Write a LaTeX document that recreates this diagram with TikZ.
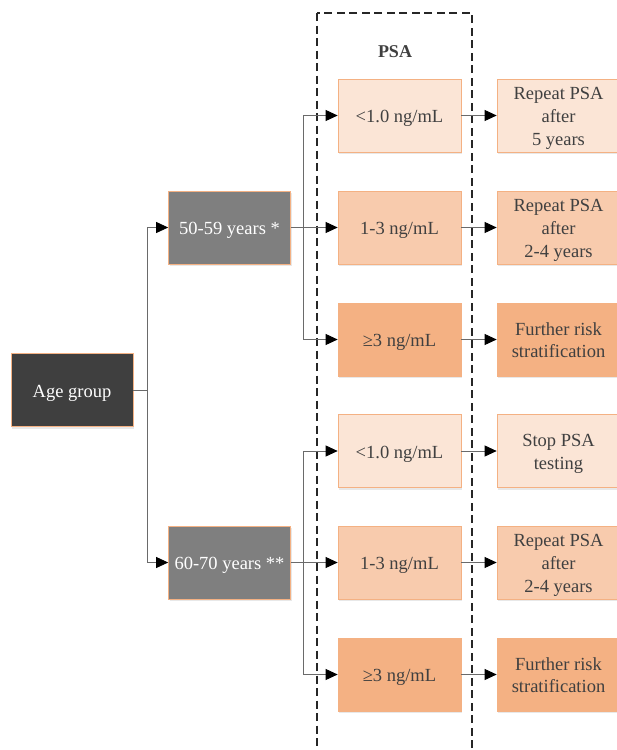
\documentclass[tikz,border=0pt]{standalone}
\usepackage{fontspec}
\setmainfont{Liberation Serif}
\usetikzlibrary{arrows.meta,shadows}
\definecolor{txt}{HTML}{404040}
\definecolor{bord}{HTML}{F4B183}
\definecolor{lowc}{HTML}{FBE5D6}
\definecolor{midc}{HTML}{F8CBAD}
\definecolor{highc}{HTML}{F4B183}
\definecolor{darkc}{HTML}{3F3F3F}
\definecolor{grayc}{HTML}{7F7F7F}
\definecolor{linec}{HTML}{6A6A6A}
\newcommand{\lowtxt}[1]{\raisebox{-2.5pt}[\height][\depth]{\begin{tabular}{@{}c@{}}#1\end{tabular}}}
\begin{document}
\begin{tikzpicture}[x=1pt,y=-1pt,
  box/.style={draw=bord, line width=0.7pt, minimum width=123pt, minimum height=73pt,
    inner sep=2pt, align=center, font=\fontsize{18.5}{22.8}\selectfont, text=txt,
    drop shadow={opacity=0.18, shadow xshift=1pt, shadow yshift=-2pt}},
  lowbox/.style={box, fill=lowc},
  midbox/.style={box, fill=midc},
  highbox/.style={box, fill=highc},
  agebox/.style={box, fill=darkc, text=white, minimum width=122pt},
  grpbox/.style={box, fill=grayc, text=white, minimum width=122pt},
  conn/.style={draw=linec, line width=0.8pt, -{Triangle[length=12pt,width=11pt,fill=black,color=black]}},
  frame/.style={draw=black!85, line width=1.8pt, dash pattern=on 8pt off 4.5pt},
  lbl/.style={font=\bfseries\fontsize{18}{21}\selectfont, text=txt}]
\useasboundingbox (0,0) rectangle (617,750);
\clip (0,0) rectangle (617,750);

\draw[frame] (317,13) rectangle (472,753);
\node[lbl] (psa) at (395,52) {PSA};

% left part
\node[agebox] (age) at (72,390) {\lowtxt{Age group}};
\node[grpbox] (g1) at (229.5,227.5) {\lowtxt{50-59 years *}};
\node[grpbox] (g2) at (229.5,562.5) {\lowtxt{60-70 years **}};

% PSA boxes
\node[lowbox]  (p1) at (399.5,115.5) {\lowtxt{<1.0 ng/mL}};
\node[midbox]  (p2) at (399.5,227.5) {\lowtxt{1-3 ng/mL}};
\node[highbox] (p3) at (399.5,339.5) {\lowtxt{≥3 ng/mL}};
\node[lowbox]  (p4) at (399.5,451) {\lowtxt{<1.0 ng/mL}};
\node[midbox]  (p5) at (399.5,562.5) {\lowtxt{1-3 ng/mL}};
\node[highbox] (p6) at (399.5,674.5) {\lowtxt{≥3 ng/mL}};

% result boxes
\node[lowbox]  (r1) at (558.5,115.5) {\lowtxt{Repeat PSA\\after\\5 years}};
\node[midbox]  (r2) at (558.5,227.5) {\lowtxt{Repeat PSA\\after\\2-4 years}};
\node[highbox] (r3) at (558.5,339.5) {\lowtxt{Further risk\\stratification}};
\node[lowbox]  (r4) at (558.5,451) {\lowtxt{Stop PSA\\testing}};
\node[midbox]  (r5) at (558.5,562.5) {\lowtxt{Repeat PSA\\after\\2-4 years}};
\node[highbox] (r6) at (558.5,674.5) {\lowtxt{Further risk\\stratification}};

% connectors
\draw[conn] (age.east) -- ++(14,0) |- (g1.west);
\draw[conn] (age.east) -- ++(14,0) |- (g2.west);

\draw[conn] (g1.east) -- (p2.west);
\draw[conn] (g1.east) -- ++(12.5,0) |- (p1.west);
\draw[conn] (g1.east) -- ++(12.5,0) |- (p3.west);
\draw[conn] (g2.east) -- (p5.west);
\draw[conn] (g2.east) -- ++(12.5,0) |- (p4.west);
\draw[conn] (g2.east) -- ++(12.5,0) |- (p6.west);

\draw[conn] (p1.east) -- (r1.west);
\draw[conn] (p2.east) -- (r2.west);
\draw[conn] (p3.east) -- (r3.west);
\draw[conn] (p4.east) -- (r4.west);
\draw[conn] (p5.east) -- (r5.west);
\draw[conn] (p6.east) -- (r6.west);
\end{tikzpicture}
\end{document}
